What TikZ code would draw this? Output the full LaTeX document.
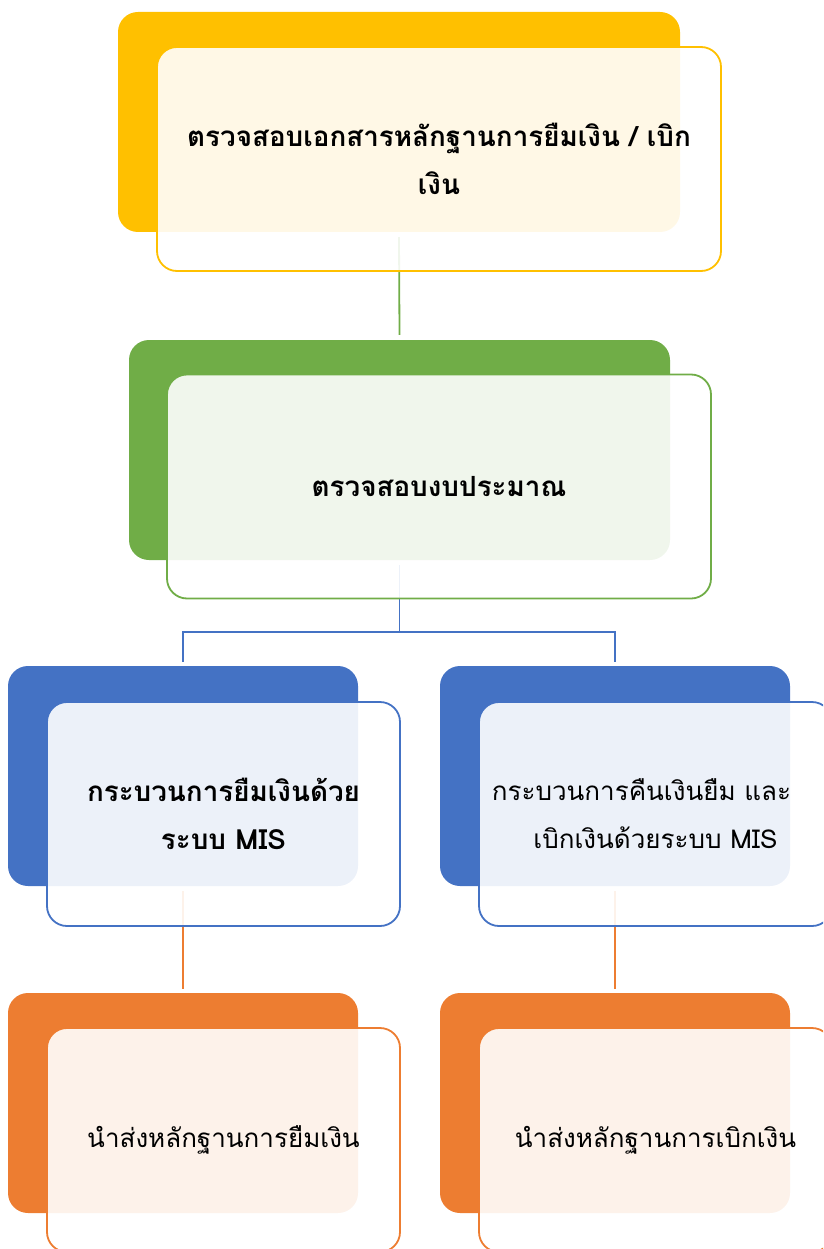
\documentclass[tikz,border=0pt]{standalone}
\usepackage{fontspec}
\newfontfamily\thai[Script=Thai]{Loma}
\definecolor{cy}{HTML}{FFC000}
\definecolor{cg}{HTML}{70AD47}
\definecolor{cb}{HTML}{4472C4}
\definecolor{co}{HTML}{ED7D31}
\tikzset{
  backbox/.style={rectangle, rounded corners=20pt, draw=none, fill=#1, inner sep=0pt, minimum height=220pt},
  frontbox/.style={rectangle, rounded corners=20pt, draw=#1, line width=1.8pt, fill=white, fill opacity=0.9, text opacity=1, draw opacity=1, inner sep=0pt, minimum height=224pt, align=center, text=black, font=\thai\fontsize{26}{48}\selectfont},
  boldtext/.style={font=\thai\bfseries\fontsize{27.8}{48}\selectfont},
  conn/.style={draw=#1, line width=1.8pt},
}
\begin{document}
\begin{tikzpicture}[x=1pt,y=-1pt]
\useasboundingbox (0,0) rectangle (823,1249);
\clip (0,0) rectangle (823,1249);
% back boxes
\node[backbox=cy, minimum width=562pt] (b1) at (399,122) {};
\node[backbox=cg, minimum width=541pt] (b2) at (399.5,450) {};
\node[backbox=cb, minimum width=350pt] (b3) at (183,776) {};
\node[backbox=cb, minimum width=350pt] (b4) at (615,776) {};
\node[backbox=co, minimum width=350pt] (b5) at (183,1103) {};
\node[backbox=co, minimum width=350pt] (b6) at (615,1103) {};
% connectors
\coordinate (j) at (399.5,632);
\draw[conn=cg] ([yshift=-5pt]b1.south) -- ([yshift=5pt]b2.north);
\draw[conn=cb] ([yshift=-5pt]b2.south) -- (j);
\draw[conn=cb] ([yshift=4pt]b3.north) |- (j) -| ([yshift=4pt]b4.north);
\draw[conn=co] ([yshift=-5pt]b3.south) -- ([yshift=4pt]b5.north);
\draw[conn=co] ([yshift=-5pt]b4.south) -- ([yshift=4pt]b6.north);
% front boxes
\node[frontbox=cy, boldtext, minimum width=564pt] (f1) at (439,159) {ตรวจสอบเอกสารหลักฐานการยืมเงิน / เบิก\\เงิน};
\node[frontbox=cg, boldtext, minimum width=544pt] (f2) at (439,486.5) {ตรวจสอบงบประมาณ};
\node[frontbox=cb, boldtext, minimum width=353pt] (f3) at (223.5,814) {กระบวนการยืมเงินด้วย\\ระบบ MIS};
\node[frontbox=cb, minimum width=353pt] (f4) at (655.5,814) {กระบวนการคืนเงินยืม และ\hspace*{28pt}\\เบิกเงินด้วยระบบ MIS};
\node[frontbox=co, minimum width=353pt] (f5) at (223.5,1140) {นำส่งหลักฐานการยืมเงิน};
\node[frontbox=co, minimum width=353pt] (f6) at (655.5,1140) {นำส่งหลักฐานการเบิกเงิน};
\end{tikzpicture}
\end{document}
